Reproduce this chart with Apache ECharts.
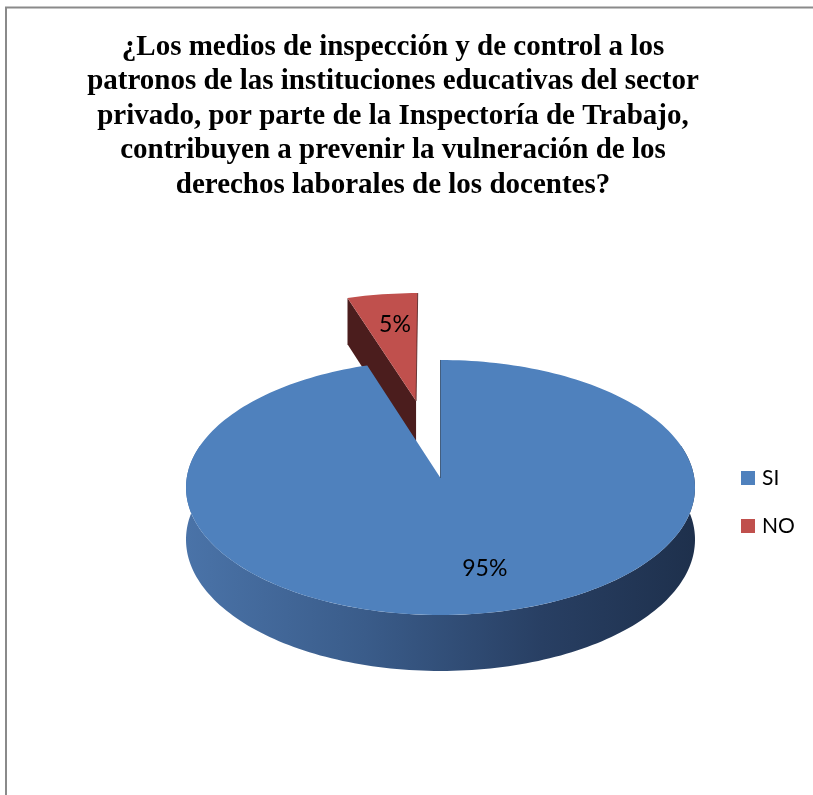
<!DOCTYPE html>
<html>
<head>
<meta charset="utf-8">
<script src="https://cdn.jsdelivr.net/npm/echarts@6/dist/echarts.min.js"></script>
<style>
  html, body { margin: 0; padding: 0; background: #ffffff; }
  #chart { width: 813px; height: 795px; }
</style>
</head>
<body>
<div id="chart"></div>
<script>
// Survey question (title lines)
const titleLines = [
  '¿Los medios de inspección y de control a los',
  'patronos de las instituciones educativas del sector',
  'privado, por parte de la Inspectoría de Trabajo,',
  'contribuyen a prevenir la vulneración de los',
  'derechos laborales de los docentes?'
];
// Answers and their shares
const categories = ['SI', 'NO'];
const values = [95, 5];
// How far each slice is pulled out of the pie (fraction of radius)
const explode = [0, 0.644];

// ---- styling ----
const topColors = ['#4F81BD', '#C0504D'];
const cutColors = ['#2B4566', '#4B1D1D'];
const wallStops = [
  ['#4A73A8', '#3A5C8A', '#283F63', '#1E304C'],
  ['#8F3B39', '#7A3230', '#5E2624', '#4B1D1D']
];
const labelShift = [[15, -2], [3, 0]];

// ---- 3D pie projection (tilted disc with mild perspective) ----
const CX = 440.5, CY = 478, RX = 253.8, RY = 126.8, PERSP = 0.0745, DEPTH = 51.8;
function project(px, pz, down) {
  const k = 1 / (1 + PERSP * pz);
  return [CX + RX * px * k, CY - RY * pz * k + (down ? DEPTH * k : 0)];
}
function pt(deg, r, off, down) {
  const t = deg * Math.PI / 180;
  return project(off[0] + r * Math.sin(t), off[1] + r * Math.cos(t), down);
}

const total = values.reduce((a, b) => a + b, 0);
const slices = [];
let acc = 0;
values.forEach((v) => {
  const a0 = acc / total * 360;
  acc += v;
  const a1 = acc / total * 360;
  slices.push({ a0, a1, mid: (a0 + a1) / 2, pct: Math.round(v / total * 100) });
});

function renderSlice(i) {
  const s = slices[i];
  const m = s.mid * Math.PI / 180;
  const off = [explode[i] * Math.sin(m), explode[i] * Math.cos(m)];
  const children = [];

  // outer wall: the part of the rim turned towards the viewer
  const w0 = Math.max(s.a0, 75), w1 = Math.min(s.a1, 285);
  if (w1 > w0) {
    const topArc = [], botArc = [];
    const n = 160;
    for (let j = 0; j <= n; j++) {
      const a = w0 + (w1 - w0) * j / n;
      topArc.push(pt(a, 1, off, false));
      botArc.push(pt(a, 1, off, true));
    }
    const st = wallStops[i];
    children.push({
      type: 'polygon',
      shape: { points: topArc.concat(botArc.reverse()) },
      style: {
        fill: {
          type: 'linear', x: 0, y: 0, x2: 1, y2: 0,
          colorStops: [
            { offset: 0, color: st[0] }, { offset: 0.35, color: st[1] },
            { offset: 0.7, color: st[2] }, { offset: 1, color: st[3] }
          ]
        }
      }
    });
  }

  // radial cut faces
  const edgeLines = [];
  [[s.a0, -1], [s.a1, 1]].forEach(([a, dir]) => {
    const t = a * Math.PI / 180;
    const nz = dir > 0 ? -Math.sin(t) : Math.sin(t);
    const c0 = project(off[0], off[1], false);
    const c1 = project(off[0], off[1], true);
    const e0 = pt(a, 1, off, false);
    const e1 = pt(a, 1, off, true);
    if (nz < -0.05) {
      children.push({
        type: 'polygon',
        shape: { points: [c0, e0, e1, c1] },
        style: { fill: cutColors[i] }
      });
    } else if (Math.abs(nz) <= 0.05) {
      edgeLines.push([c0, e0]);
    }
  });

  // top face
  const face = [project(off[0], off[1], false)];
  const steps = Math.max(8, Math.ceil((s.a1 - s.a0) / 1.5));
  for (let j = 0; j <= steps; j++) {
    face.push(pt(s.a0 + (s.a1 - s.a0) * j / steps, 1, off, false));
  }
  children.push({ type: 'polygon', shape: { points: face }, style: { fill: topColors[i] } });

  edgeLines.forEach(([p, q]) => {
    children.push({
      type: 'line',
      shape: { x1: p[0], y1: p[1], x2: q[0], y2: q[1] },
      style: { stroke: cutColors[i], lineWidth: 1, opacity: 0.8 }
    });
  });

  // percentage label
  const lp = pt(s.mid, 0.7, off, false);
  children.push({
    type: 'text',
    x: lp[0] + labelShift[i][0],
    y: lp[1] + labelShift[i][1],
    style: {
      text: s.pct + '%',
      fill: '#000000',
      fontFamily: 'Lato',
      fontSize: 23,
      align: 'center',
      verticalAlign: 'middle'
    }
  });

  return { type: 'group', children };
}

// slices further back are drawn first
const depthOrder = slices.map((s, i) => ({ i, z: Math.cos(s.mid * Math.PI / 180) * (1 + explode[i]) }))
  .sort((a, b) => b.z - a.z).map(o => o.i);

const chart = echarts.init(document.getElementById('chart'), null, { renderer: 'canvas' });
chart.setOption({
  animation: false,
  backgroundColor: '#ffffff',
  title: {
    text: titleLines.join('\n'),
    left: 393,
    top: 30,
    textAlign: 'center',
    padding: 0,
    textStyle: {
      fontFamily: 'Liberation Serif',
      fontWeight: 'bold',
      fontSize: 29,
      lineHeight: 34.5,
      color: '#000000'
    }
  },
  legend: {
    data: categories,
    orient: 'vertical',
    left: 741,
    top: 467.5,
    padding: 0,
    itemWidth: 14,
    itemHeight: 14,
    itemGap: 27,
    icon: 'rect',
    textStyle: { fontFamily: 'Lato', fontSize: 21, lineHeight: 21, color: '#000000', padding: [0, 0, 0, 2] }
  },
  graphic: [{
    type: 'rect',
    z: -10,
    shape: { x: 6, y: 7.5, width: 1200, height: 1200 },
    style: { fill: 'none', stroke: '#8a8a8a', lineWidth: 2 }
  }],
  series: categories.map((name, i) => ({
    type: 'custom',
    name,
    coordinateSystem: 'none',
    z: 2 + depthOrder.indexOf(i),
    itemStyle: { color: topColors[i] },
    data: [values[i]],
    renderItem: () => renderSlice(i)
  }))
});
</script>
</body>
</html>
